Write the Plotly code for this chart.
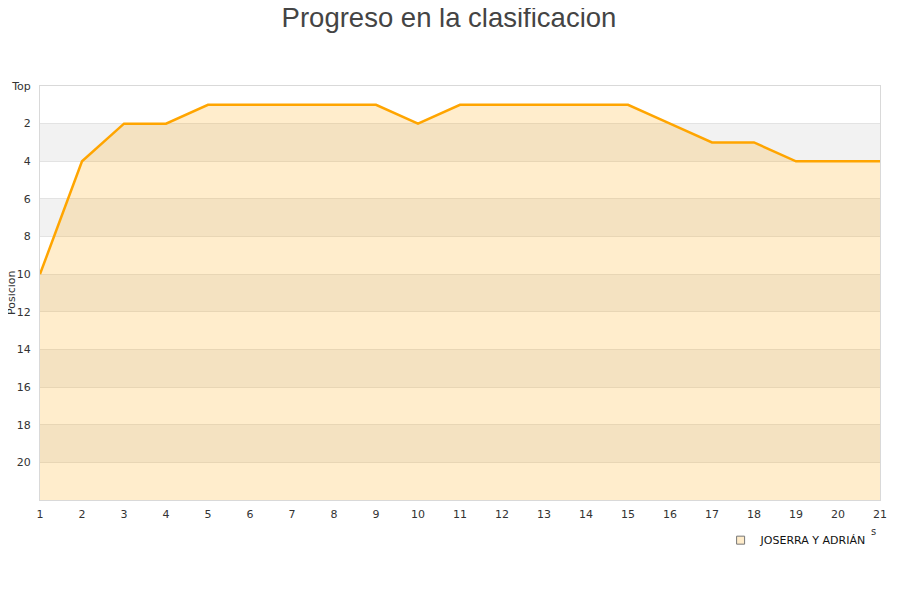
import plotly.graph_objects as go

# data
jornadas = list(range(1, 22))
posiciones = [10, 4, 2, 2, 1, 1, 1, 1, 1, 2, 1, 1, 1, 1, 1, 2, 3, 3, 4, 4, 4]
equipo = 'JOSERRA Y ADRIÁN'
y_ticks = [0, 2, 4, 6, 8, 10, 12, 14, 16, 18, 20]
y_labels = ['Top', '2', '4', '6', '8', '10', '12', '14', '16', '18', '20']
y_max = 22

# colours
line_color = '#ffa500'
fill_color = 'rgba(255, 165, 0, 0.2)'
band_color = '#f2f2f2'
grid_color = '#e3e3e3'
axis_color = '#d9d9d9'
text_color = '#333333'

fig = go.Figure()

# invisible base line at the bottom of the axis so the fill goes downwards
fig.add_trace(go.Scatter(
    x=jornadas,
    y=[y_max] * len(jornadas),
    mode='lines',
    line=dict(width=0),
    hoverinfo='skip',
    showlegend=False
))

# the team line with the fill under it
fig.add_trace(go.Scatter(
    x=jornadas,
    y=posiciones,
    mode='lines',
    line=dict(color=line_color, width=2.5),
    fill='tonexty',
    fillcolor=fill_color,
    name=equipo,
    showlegend=False
))

# legend entry as a small square, like the reference
fig.add_trace(go.Scatter(
    x=[None],
    y=[None],
    mode='markers',
    marker=dict(symbol='square', size=8, color='#ffecca', line=dict(color='#777777', width=1)),
    name=equipo,
    showlegend=True
))

# alternating grey bands behind the plot
for start in range(2, y_max, 4):
    fig.add_shape(
        type='rect', xref='paper', yref='y',
        x0=0, x1=1, y0=start, y1=start + 2,
        fillcolor=band_color, line=dict(width=0), layer='below'
    )

# page has an 8px body margin, so margins are shifted to match the reference
fig.update_layout(
    width=900,
    height=600,
    title=dict(
        text='Progreso en la clasificacion',
        x=0.49,
        xanchor='center',
        y=1.0,
        yanchor='top',
        font=dict(family='Liberation Sans, Arial', size=27.5, color='#444444')
    ),
    font=dict(family='DejaVu Sans', size=11, color=text_color),
    plot_bgcolor='white',
    paper_bgcolor='white',
    margin=dict(l=32, r=28, t=78, b=108),
    showlegend=True,
    legend=dict(
        orientation='h',
        x=0.99,
        xanchor='right',
        y=-0.097,
        yanchor='middle',
        font=dict(family='DejaVu Sans', size=11, color='#111111'),
        bgcolor='rgba(0,0,0,0)'
    )
)

fig.update_xaxes(
    range=[1, 21],
    tickmode='array',
    tickvals=jornadas,
    showgrid=False,
    zeroline=False,
    showline=True,
    mirror=True,
    linecolor=axis_color,
    linewidth=1,
    ticks='',
    ticklabelstandoff=4,
    automargin=False,
    tickfont=dict(size=11, color=text_color)
)

fig.update_yaxes(
    range=[y_max, 0],
    tickmode='array',
    tickvals=y_ticks,
    ticktext=y_labels,
    showgrid=True,
    gridcolor=grid_color,
    gridwidth=1,
    zeroline=False,
    showline=True,
    mirror=True,
    linecolor=axis_color,
    linewidth=1,
    ticks='',
    ticklabelstandoff=6,
    automargin=False,
    tickfont=dict(size=11, color=text_color)
)

# y axis title as a rotated annotation so it sits left of the tick labels
fig.add_annotation(
    x=0, y=0.5, xref='paper', yref='paper',
    xanchor='center', yanchor='middle', xshift=-29,
    text='Posicion', textangle=-90, showarrow=False,
    font=dict(size=11, color=text_color)
)

# leftover bit of the cut-off x axis title near the right edge
fig.add_annotation(
    x=1, y=-0.075, xref='paper', yref='paper',
    xanchor='center', yanchor='middle', xshift=-7,
    text='s', showarrow=False,
    font=dict(size=10, color=text_color)
)

fig.write_html('out.html')
